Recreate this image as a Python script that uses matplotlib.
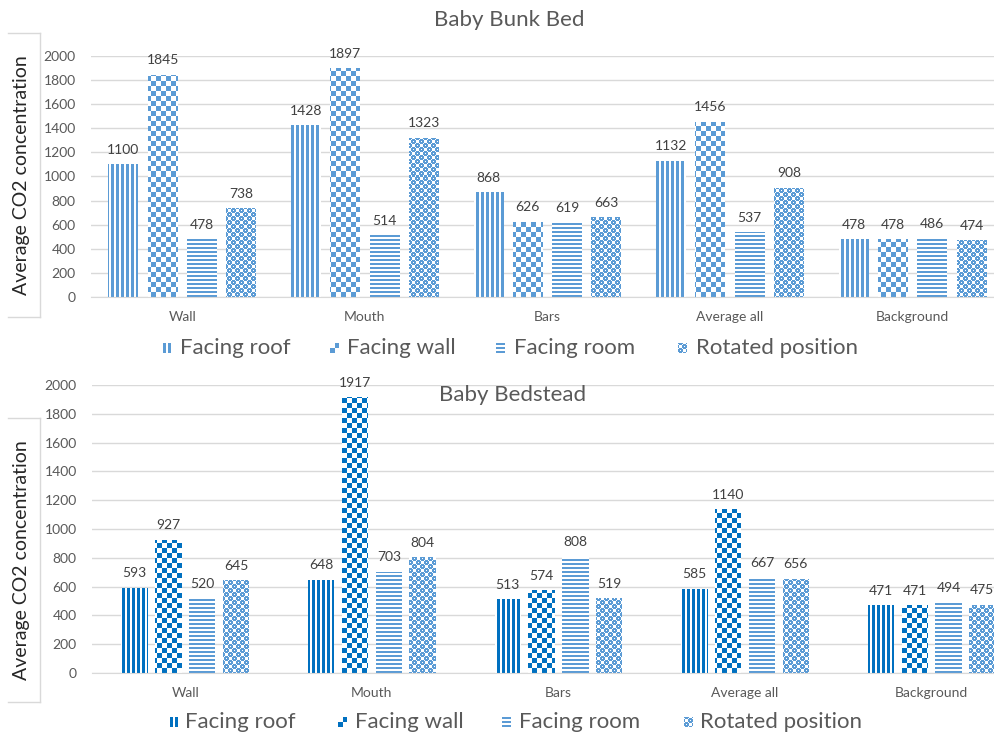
import matplotlib
matplotlib.use('Agg')
import matplotlib.pyplot as plt
import numpy as np
from matplotlib.colors import to_rgb
from matplotlib.lines import Line2D
from matplotlib.path import Path

categories = ['Wall', 'Mouth', 'Bars', 'Average all', 'Background']
series = ['Facing roof', 'Facing wall', 'Facing room', 'Rotated position']

# Baby Bunk Bed
bunk_roof = [1100, 1428, 868, 1132, 478]
bunk_wall = [1845, 1897, 626, 1456, 478]
bunk_room = [478, 514, 619, 537, 486]
bunk_rot = [738, 1323, 663, 908, 474]

# Baby Bedstead
stead_roof = [593, 648, 513, 585, 471]
stead_wall = [927, 1917, 574, 1140, 471]
stead_room = [520, 703, 808, 667, 494]
stead_rot = [645, 804, 519, 656, 475]

W, H = 994, 736
LIGHT = '#5B9BD5'
DARK = '#0070C0'
kinds = ['vert', 'check', 'horiz', 'dots']

plt.rcParams['font.family'] = ['Lato', 'DejaVu Sans']

fig = plt.figure(figsize=(W / 100, H / 100), dpi=100)


def pattern_mask(kind, xx, yy):
    if kind == 'vert':
        return (xx % 5) < 3
    if kind == 'horiz':
        return (yy % 4) < 2
    if kind == 'check':
        return ((xx // 5) + (yy // 5)) % 2 == 0
    # small spheres on a staggered grid
    u = xx % 8
    v = yy % 8
    d = np.full(u.shape, 99.0)
    for cx, cy in [(2, 2), (6, 6), (6, -2), (-2, 6), (10, 2), (2, 10), (-2, -2), (10, 10)]:
        d = np.minimum(d, np.hypot(u - cx, v - cy))
    return (d < 2.6) & (d > 0.6)


def pattern_img(kind, color, w, h):
    yy, xx = np.mgrid[0:h, 0:w]
    m = pattern_mask(kind, xx, yy)
    img = np.ones((h, w, 3))
    img[m] = to_rgb(color)
    return img


def fig_line(x0, y0, x1, y1):
    fig.add_artist(Line2D([x0 / W, x1 / W], [1 - y0 / H, 1 - y1 / H],
                          transform=fig.transFigure, color='#D9D9D9', lw=1))


def panel(box, data, colors, width, step):
    l, r, t, b = box
    ax = fig.add_axes([l / W, 1 - b / H, (r - l) / W, (b - t) / H])
    pw, ph = int(round(r - l)), int(round(b - t))
    x = np.arange(len(categories))
    for i, vals in enumerate(data):
        bars = ax.bar(x + (i - 1.5) * step, vals, width, color='none', lw=0)
        clip = Path.make_compound_path(*[p.get_patch_transform().transform_path(p.get_path())
                                         for p in bars.patches])
        im = ax.imshow(pattern_img(kinds[i], colors[i], pw, ph), origin='lower',
                       extent=(-0.5, 4.5, 0, 2000), aspect='auto',
                       interpolation='nearest', zorder=2)
        im.set_clip_path(clip, ax.transData)
        ax.bar_label(bars, padding=6, fontsize=10, color='#404040')
    ax.set_xlim(-0.5, 4.5)
    ax.set_ylim(0, 2000)
    ax.set_yticks(range(0, 2001, 200))
    ax.set_xticks(x, categories)
    ax.tick_params(length=0, labelsize=10, labelcolor='#595959')
    ax.tick_params(axis='y', pad=11)
    ax.tick_params(axis='x', pad=10)
    ax.yaxis.grid(True, color='#D9D9D9', lw=1)
    ax.set_axisbelow(True)
    for s in ['left', 'right', 'top']:
        ax.spines[s].set_visible(False)
    ax.spines['bottom'].set_color('#D9D9D9')
    return ax


def legend(y, colors, icon_x, text_x):
    for i, name in enumerate(series):
        fig.figimage(pattern_img(kinds[i], colors[i], 9, 10), xo=icon_x[i], yo=H - y - 5,
                     origin='lower', zorder=5)
        fig.text(text_x[i] / W, 1 - y / H, name, va='center', ha='left',
                 fontsize=16, color='#595959')


def ylabel_box(top, bottom):
    fig_line(8, top, 40, top)
    fig_line(40, top, 40, bottom)
    fig_line(8, bottom, 40, bottom)
    fig.text(22 / W, 1 - (top + bottom) / 2 / H, 'Average CO2 concentration',
             rotation=90, ha='center', va='center', fontsize=14, color='#262626')


# top panel
panel((91, 1004, 56, 297), [bunk_roof, bunk_wall, bunk_room, bunk_rot],
      [LIGHT, LIGHT, LIGHT, LIGHT], 0.164, 0.215)
fig.text(509 / W, 1 - 20 / H, 'Baby Bunk Bed', ha='center', va='center',
         fontsize=16, color='#595959')
ylabel_box(33, 317)
legend(348, [LIGHT] * 4, [163, 330, 496, 678], [180, 347, 514, 696])

# bottom panel
panel((92, 1025, 385, 673), [stead_roof, stead_wall, stead_room, stead_rot],
      [DARK, DARK, LIGHT, LIGHT], 0.142, 0.181)
fig.text(513 / W, 1 - 395 / H, 'Baby Bedstead', ha='center', va='center',
         fontsize=16, color='#595959')
ylabel_box(418, 702)
legend(722, [DARK, DARK, LIGHT, LIGHT], [170, 338, 502, 684], [185, 355, 519, 700])

fig.savefig('out.png', dpi=100)
